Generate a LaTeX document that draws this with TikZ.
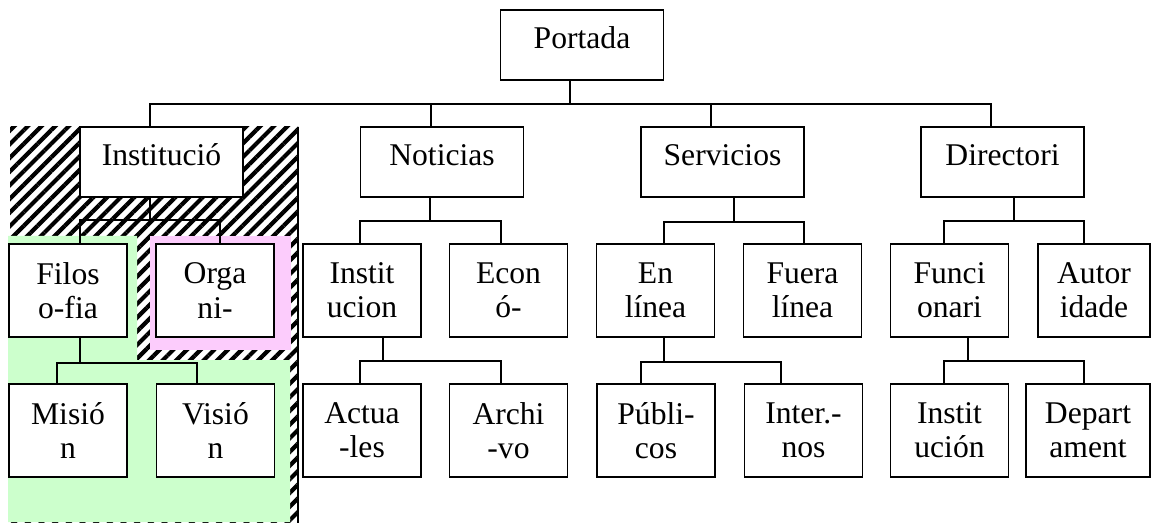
\documentclass[tikz,border=0pt]{standalone}
\usepackage{fontspec}
\setmainfont{Liberation Serif}
\usepackage{xcolor}
\usetikzlibrary{patterns.meta}

\definecolor{greenzone}{RGB}{204,255,204}
\definecolor{pinkzone}{RGB}{252,204,252}

\tikzset{
box/.style={draw, line width=1pt, fill=white, inner sep=0pt, align=center,
            font=\fontsize{18}{19.4}\selectfont},
topbox/.style={box, minimum width=3.26cm, minimum height=1.4cm, text height=12pt, text depth=8.5pt},
leafbox/.style={box, minimum width=2.36cm, minimum height=1.86cm},
link/.style={line width=1pt}
}

\begin{document}
\begin{tikzpicture}[x=0.02cm, y=-0.02cm]
\useasboundingbox (0,0) rectangle (1151,523);

% zones behind the first branch
\fill[pattern={Lines[angle=45, distance=5.5pt, line width=2.4pt]}] (10,127) rectangle (298,523);
\draw[line width=1pt] (298,127) -- (298,523); %right edge of hatched zone
\fill[greenzone] (8,236) -- (137,236) -- (137,360) -- (290,360) -- (290,522) -- (8,522) -- cycle;
\fill[pinkzone] (150,236) rectangle (291,350);

% level 0 and 1
\node[topbox] (port) at (582,45) {Portada};
\node[topbox] (inst) at (161.5,162) {Institució};
\node[topbox] (noti) at (442,162) {Noticias};
\node[topbox] (serv) at (722.5,162) {Servicios};
\node[topbox] (dire) at (1002.5,162) {Directori};

% level 2
\node[leafbox] (filo) at (68,290.5) {Filos\\o-fia};
\node[leafbox] (orga) at (215,290.5) {Orga\\ni-};
\node[leafbox] (ninst) at (362,290.5) {Instit\\ucion};
\node[leafbox] (econ) at (508.5,290.5) {Econ\\ó-};
\node[leafbox] (enli) at (655.5,290.5) {En\\línea};
\node[leafbox] (fuera) at (802.5,290.5) {Fuera\\línea};
\node[leafbox] (func) at (949.5,290.5) {Funci\\onari};
\node[leafbox, minimum width=2.24cm] (auto) at (1094,290.5) {Autor\\idade};

% level 3
\node[leafbox] (mision) at (68,430.5) {Misió\\n};
\node[leafbox] (vision) at (215.5,430.5) {Visió\\n};
\node[leafbox] (actua) at (362,430.5) {Actua\\-les};
\node[leafbox] (archi) at (508.5,430.5) {Archi\\-vo};
\node[leafbox] (publ) at (656,430.5) {Públi-\\cos};
\node[leafbox] (inter) at (803.5,430.5) {Inter.-\\nos};
\node[leafbox] (finst) at (949.5,430.5) {Instit\\ución};
\node[leafbox, minimum width=2.48cm] (depa) at (1088,430.5) {Depart\\ament};

% bars where the connectors meet
\coordinate (bus) at (570,104);
\coordinate (barI) at (150,220);
\coordinate (barN) at (430,221);
\coordinate (barS) at (734,222);
\coordinate (barD) at (1014,221);
\coordinate (barF) at (80,363);
\coordinate (barNI) at (383,361);
\coordinate (barE) at (664,362);
\coordinate (barFu) at (968,361);

% connectors
\draw[link] (port.south -| bus) -- (bus);
\draw[link] (inst.north -| 150,0) |- (bus) -| (dire.north -| 991,0);
\draw[link] (noti.north -| 431,0) -- (431,104);
\draw[link] (serv.north -| 711,0) -- (711,104);

\draw[link] (inst.south -| barI) -- (barI);
\draw[link] (filo.north -| 80,0) |- (barI) -| (orga.north -| 220,0);
\draw[link] (noti.south -| barN) -- (barN);
\draw[link] (ninst.north -| 360,0) |- (barN) -| (econ.north -| 501,0);
\draw[link] (serv.south -| barS) -- (barS);
\draw[link] (enli.north -| 664,0) |- (barS) -| (fuera.north -| 804,0);
\draw[link] (dire.south -| barD) -- (barD);
\draw[link] (func.north -| 944,0) |- (barD) -| (auto.north -| 1084,0);

\draw[link] (filo.south -| barF) -- (barF);
\draw[link] (mision.north -| 57,0) |- (barF) -| (vision.north -| 197,0);
\draw[link] (ninst.south -| barNI) -- (barNI);
\draw[link] (actua.north -| 360,0) |- (barNI) -| (archi.north -| 501,0);
\draw[link] (enli.south -| barE) -- (barE);
\draw[link] (publ.north -| 641,0) |- (barE) -| (inter.north -| 781,0);
\draw[link] (func.south -| barFu) -- (barFu);
\draw[link] (finst.north -| 944,0) |- (barFu) -| (depa.north -| 1084,0);

\end{tikzpicture}
\end{document}
